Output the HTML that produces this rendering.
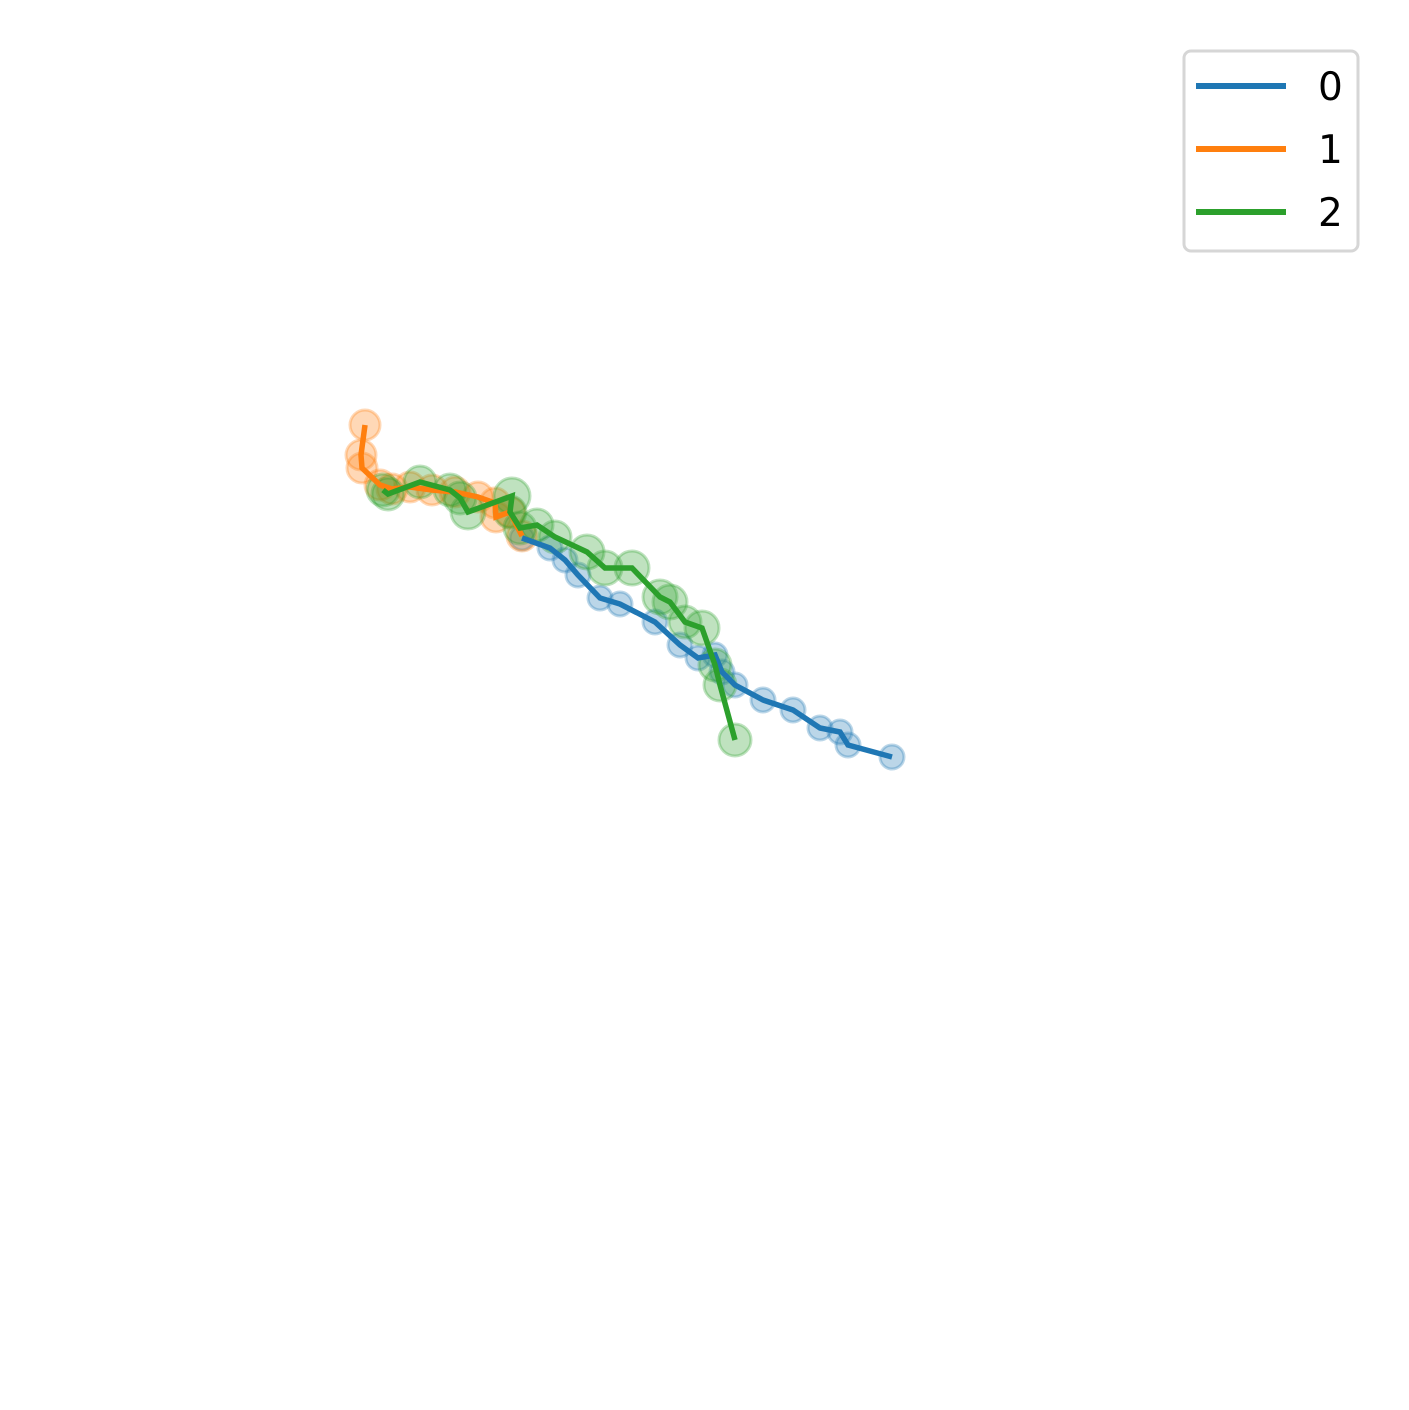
<!DOCTYPE html>
<html><head><meta charset="utf-8"><style>
html,body{margin:0;padding:0;background:#fff;}
svg{display:block;font-family:"DejaVu Sans","Liberation Sans",sans-serif;}
</style></head><body>
<svg id="chart" width="1409" height="1410" viewBox="0 0 1409 1410">
<g id="plot"></g>
<g>
<rect x="1184" y="51" width="174" height="200" rx="7" fill="#fff" fill-opacity="0.8" stroke="#d6d6d6" stroke-width="3"/>
<g><line x1="1196" y1="86" x2="1286" y2="86" stroke="#1f77b4" stroke-width="6"/><text x="1318" y="100" font-size="39">0</text></g>
<g><line x1="1196" y1="149" x2="1286" y2="149" stroke="#ff7f0e" stroke-width="6"/><text x="1318" y="163" font-size="39">1</text></g>
<g><line x1="1196" y1="212" x2="1286" y2="212" stroke="#2ca02c" stroke-width="6"/><text x="1318" y="226" font-size="39">2</text></g>
</g>
</svg>
<script>
const blueX=[4.22,4.50,4.65,4.78,5.00,5.20,5.55,5.80,5.98,6.15,6.22,6.35,6.63,6.93,7.20,7.40,7.48,7.92];
const blueY=[7.62,7.52,7.40,7.25,7.02,6.96,6.78,6.55,6.42,6.45,6.28,6.15,6.00,5.90,5.72,5.68,5.55,5.43];
const orangeX=[2.65,2.61,2.62,2.80,2.92,3.10,3.32,3.55,3.78,3.95,3.96,4.10,4.22];
const orangeY=[8.75,8.45,8.32,8.15,8.11,8.13,8.10,8.08,8.03,7.97,7.83,7.88,7.64];
const greenX=[2.83,2.88,3.20,3.50,3.60,3.68,4.12,4.10,4.20,4.37,4.55,4.87,5.05,5.32,5.60,5.70,5.85,6.02,6.15,6.20,6.35];
const greenY=[8.10,8.06,8.18,8.10,8.02,7.88,8.04,7.88,7.72,7.75,7.63,7.48,7.32,7.32,7.03,6.98,6.78,6.72,6.35,6.15,5.60];
const greenR=[16,16,16,16,16,17,18,16,16,16,16,17,17,17,17,17,16,17,16,16,16];
function sx(v){return 100+v*100;}
function sy(v){return 1300-v*100;}
const NS="http://www.w3.org/2000/svg";
const plot=document.getElementById('plot');
const series=[
 {name:'0',xs:blueX,ys:blueY,c:'#1f77b4',r:()=>12},
 {name:'1',xs:orangeX,ys:orangeY,c:'#ff7f0e',r:()=>15},
 {name:'2',xs:greenX,ys:greenY,c:'#2ca02c',r:(i)=>greenR[i]}
];
series.forEach(s=>{
 const g=document.createElementNS(NS,'g');
 
 
 s.xs.forEach((x,i)=>{
  const c=document.createElementNS(NS,'circle');
  
  
  c.setAttribute('cx',sx(x));c.setAttribute('cy',sy(s.ys[i]));c.setAttribute('r',s.r(i));
  c.setAttribute('fill',s.c);c.setAttribute('fill-opacity','0.3');
  c.setAttribute('stroke',s.c);c.setAttribute('stroke-opacity','0.3');c.setAttribute('stroke-width','3');
  g.appendChild(c);
 });
 plot.appendChild(g);
});
series.forEach(s=>{
 const p=document.createElementNS(NS,'polyline');
 
 
 p.setAttribute('points',s.xs.map((x,i)=>sx(x)+','+sy(s.ys[i])).join(' '));
 p.setAttribute('fill','none');p.setAttribute('stroke',s.c);p.setAttribute('stroke-width','5.5');
 p.setAttribute('stroke-linejoin','miter');
 plot.appendChild(p);
});
</script>
</body></html>
